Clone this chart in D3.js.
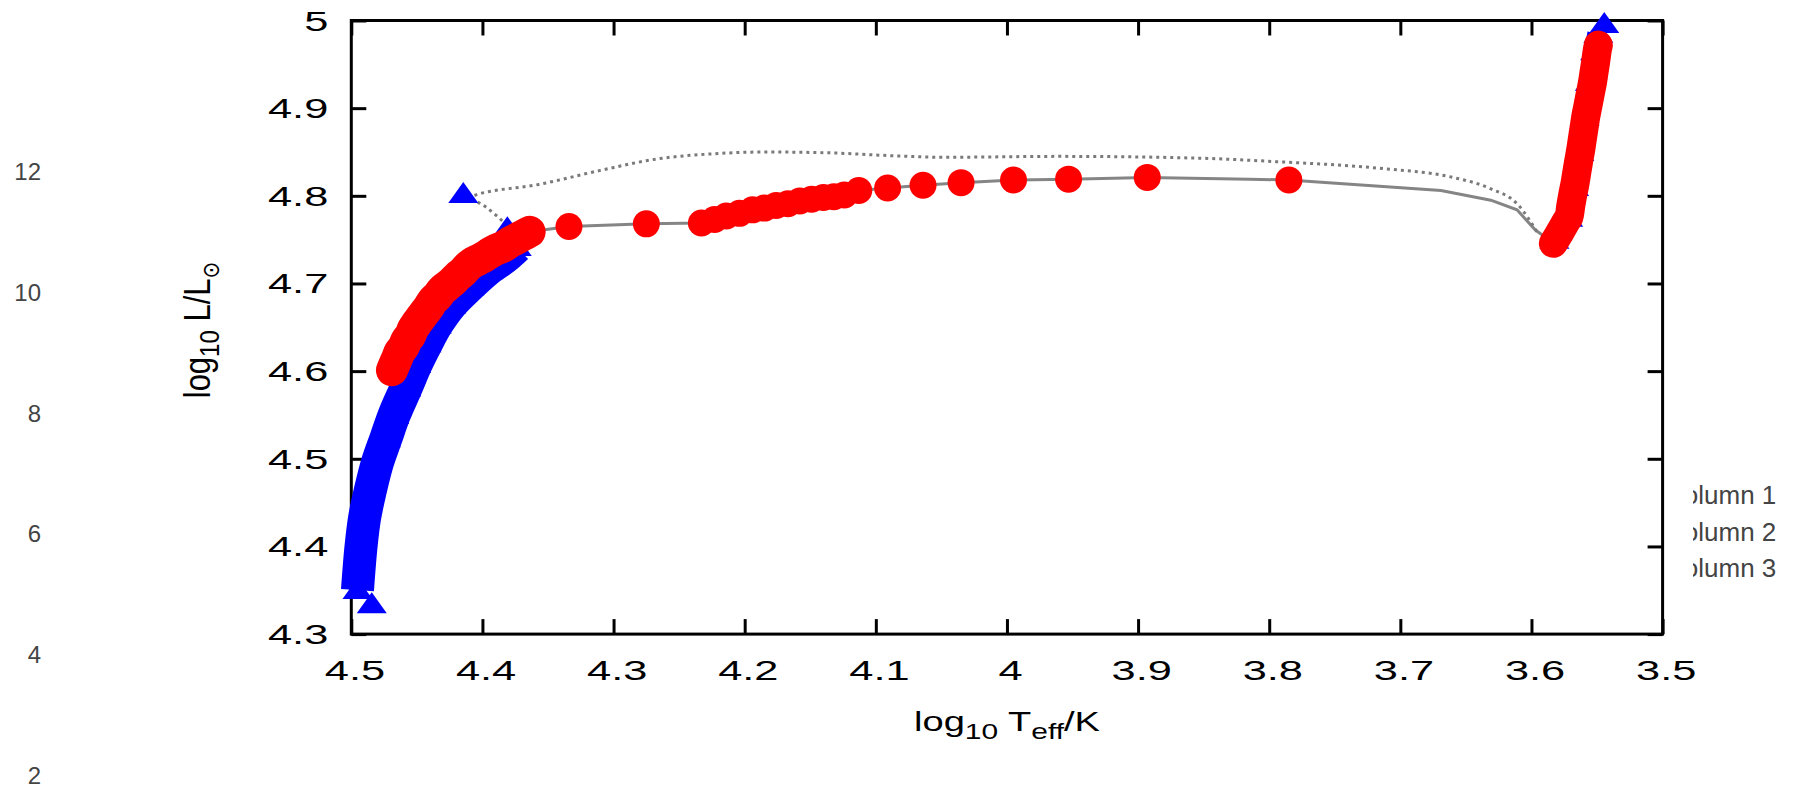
<!DOCTYPE html>
<html><head><meta charset="utf-8">
<script src="https://cdn.jsdelivr.net/npm/d3@7"></script>
<style>html,body{margin:0;padding:0;background:#fff;overflow:hidden}</style>
</head><body><svg id="c" width="1799" height="789"></svg>
<script>
// ---- tick labels ----
const xTickVals = [4.5,4.4,4.3,4.2,4.1,4.0,3.9,3.8,3.7,3.6,3.5];
const xTickLabels = ["4.5","4.4","4.3","4.2","4.1","4","3.9","3.8","3.7","3.6","3.5"];
const yTickVals = [4.3,4.4,4.5,4.6,4.7,4.8,4.9,5.0];
const yTickLabels = ["4.3","4.4","4.5","4.6","4.7","4.8","4.9","5"];
const bgAxisVals = [2,4,6,8,10,12];
const legendLabels = ["Column 1","Column 2","Column 3"];

// ---- red circles (Column 2) ----
const redLeftX = [4.469,4.467,4.465,4.463,4.460,4.458,4.455,4.453,4.450,4.447,4.444,4.441,4.438,4.434,4.431,4.427,4.423,4.419,4.415,4.412,4.408,4.403,4.398,4.394,4.389,4.384,4.379,4.374,4.369,4.364];
const redLeftY = [4.601,4.608,4.615,4.622,4.628,4.635,4.641,4.648,4.655,4.661,4.667,4.673,4.680,4.686,4.692,4.697,4.702,4.708,4.713,4.718,4.723,4.727,4.731,4.735,4.739,4.742,4.747,4.751,4.755,4.759];
const redMidX = [4.233,4.223,4.214,4.204,4.194,4.185,4.176,4.167,4.158,4.149,4.140,4.132,4.124];
const redMidY = [4.769,4.773,4.777,4.780,4.784,4.786,4.789,4.791,4.794,4.796,4.798,4.799,4.801];
const redSparseX = [4.334,4.275,4.113,4.091,4.064,4.035,3.995,3.953,3.893,3.785];
const redSparseY = [4.765,4.768,4.806,4.809,4.812,4.815,4.818,4.819,4.821,4.818];
const redRightX = [3.5833,3.5800,3.5765,3.5738,3.5714,3.5700,3.5685,3.5668,3.5654,3.5640,3.5625,3.5612,3.5599,3.5586,3.5569,3.5553,3.5536,3.5523,3.5510,3.5498,3.5490];
const redRightY = [4.7458,4.7540,4.7630,4.7700,4.7761,4.7890,4.8015,4.8142,4.8270,4.8395,4.8522,4.8650,4.8775,4.8902,4.9030,4.9155,4.9283,4.9410,4.9535,4.9663,4.9720];

// ---- blue triangles (Column 1) ----
const blueBandX = [4.4953,4.4926,4.4899,4.4855,4.4802,4.4736,4.4673,4.4581,4.4505,4.4426,4.4348,4.4238,4.4099,4.3967,4.3830,4.3738];
const blueBandY = [4.3502,4.3996,4.4323,4.4638,4.4950,4.5233,4.5499,4.5814,4.6080,4.6317,4.6531,4.6760,4.6968,4.7147,4.7294,4.7416];
const blueRightX = [3.5825,3.5720,3.5675,3.5635,3.5595,3.5555,3.5515,3.5490];
const blueRightY = [4.750,4.775,4.810,4.850,4.890,4.930,4.965,4.985];
const blueSparseX = [4.4146,4.381,4.4844,3.5445];
const blueSparseY = [4.802,4.763,4.334,4.996];

// ---- lines (Column 3) ----
const trackX = [4.469,4.447,4.431,4.408,4.384,4.364,4.334,4.275,4.233,4.194,4.158,4.124,4.113,4.091,4.064,4.035,3.995,3.953,3.893,3.815,3.785,3.716,3.669,3.631,3.611,3.597,3.583,3.5714,3.5625,3.5536,3.549];
const trackY = [4.601,4.661,4.692,4.723,4.742,4.759,4.765,4.768,4.769,4.784,4.794,4.801,4.806,4.809,4.812,4.815,4.818,4.819,4.821,4.819,4.818,4.811,4.806,4.795,4.784,4.761,4.746,4.776,4.852,4.928,4.972];
const dotX = [4.381,4.414,4.403,4.357,4.310,4.267,4.223,4.185,4.135,4.092,4.048,3.960,3.855,3.795,3.713,3.663,3.631,3.611,3.595];
const dotY = [4.766,4.797,4.802,4.813,4.829,4.842,4.848,4.850,4.849,4.846,4.844,4.845,4.843,4.839,4.831,4.822,4.808,4.791,4.757];

const FONT = "'Liberation Sans', Arial, sans-serif";
const svg = d3.select("#c");
const x = d3.scaleLinear().domain([4.5,3.5]).range([351.3,1662.6]);
const y = d3.scaleLinear().domain([4.3,5.0]).range([634.1,20.5]);
const zip = (xs,ys)=>xs.map((v,i)=>[v,ys[i]]);

// ---- background (underlying chart) axis labels ----
const gy = d3.scaleLinear().domain([2,12]).range([775,171.3]);
const bg = svg.append("g").attr("transform","translate(44,0)")
  .call(d3.axisLeft(gy).tickValues(bgAxisVals).tickSize(0).tickPadding(3));
bg.select(".domain").remove();
bg.selectAll("text").attr("font-family",FONT).attr("font-size",24).attr("fill","#444").attr("dy","0.35em");

// legend (clipped on its left side)
svg.append("clipPath").attr("id","lc").append("rect").attr("x",1693).attr("y",460).attr("width",106).attr("height",140);
const lg = svg.append("g").attr("clip-path","url(#lc)");
const legY = d3.scalePoint().domain(legendLabels).range([504,577]);
lg.selectAll("text").data(legendLabels).join("text")
  .attr("x",1665).attr("y",d=>legY(d)).attr("font-family",FONT).attr("font-size",26).attr("fill","#444").text(d=>d);

// ---- axes ----
function styleAxis(g){
  g.select(".domain").remove();
  g.selectAll(".tick line").attr("stroke","#000").attr("stroke-width",3);
}
const axB = svg.append("g").attr("transform",`translate(0,${y(4.3)})`)
  .call(d3.axisBottom(x).tickValues(xTickVals).tickFormat((d,i)=>xTickLabels[i]).tickSizeInner(-15).tickSizeOuter(0));
styleAxis(axB);
axB.selectAll("text").attr("font-family",FONT).attr("font-size",28).attr("fill","#000")
  .attr("y",26).attr("dy","0.71em").attr("x",2).attr("transform","scale(1.55,1)");
const axT = svg.append("g").attr("transform",`translate(0,${y(5.0)})`)
  .call(d3.axisTop(x).tickValues(xTickVals).tickFormat("").tickSizeInner(-15).tickSizeOuter(0));
styleAxis(axT);
const axL = svg.append("g").attr("transform",`translate(${x(4.5)},0)`)
  .call(d3.axisLeft(y).tickValues(yTickVals).tickFormat((d,i)=>yTickLabels[i]).tickSizeInner(-15).tickSizeOuter(0));
styleAxis(axL);
axL.selectAll("text").attr("font-family",FONT).attr("font-size",28).attr("fill","#000")
  .attr("x",-23/1.55).attr("dy","0.34em").attr("transform","scale(1.55,1)");
const axR = svg.append("g").attr("transform",`translate(${x(3.5)},0)`)
  .call(d3.axisRight(y).tickValues(yTickVals).tickFormat("").tickSizeInner(-15).tickSizeOuter(0));
styleAxis(axR);
svg.append("rect").attr("x",x(4.5)).attr("y",y(5.0)).attr("width",x(3.5)-x(4.5)).attr("height",y(4.3)-y(5.0))
  .attr("fill","none").attr("stroke","#000").attr("stroke-width",3);

// ---- lines ----
const line = d3.line().x(d=>x(d[0])).y(d=>y(d[1]));
svg.append("path").attr("d",line(zip(trackX,trackY))).attr("fill","none").attr("stroke","#858585").attr("stroke-width",3);
const dline = d3.line().x(d=>x(d[0])).y(d=>y(d[1])).curve(d3.curveMonotoneX);
svg.append("path").attr("d",dline(zip(dotX,dotY))).attr("fill","none")
  .attr("stroke","#7a7a7a").attr("stroke-width",3).attr("stroke-dasharray","3,4");

// ---- blue triangles ----
const tri = "M0,-12L15,9L-15,9Z";
const band = d3.line().x(d=>x(d[0])).y(d=>y(d[1])).curve(d3.curveCatmullRom);
svg.append("path").attr("d",band(zip(blueBandX,blueBandY))).attr("fill","none").attr("stroke","#0000ff")
  .attr("stroke-width",33).attr("stroke-linejoin","round");
svg.append("path").attr("d",band(zip(blueRightX,blueRightY))).attr("fill","none").attr("stroke","#0000ff")
  .attr("stroke-width",22).attr("stroke-linejoin","round");
const bluePts = zip(blueBandX,blueBandY).concat(zip(blueRightX,blueRightY),zip(blueSparseX,blueSparseY));
svg.append("g").selectAll("path").data(bluePts).join("path")
  .attr("d",tri).attr("transform",d=>`translate(${x(d[0])},${y(d[1])})`).attr("fill","#0000ff");

// ---- red circles ----
svg.append("path").attr("d",band(zip(redLeftX,redLeftY))).attr("fill","none").attr("stroke","#ff0000")
  .attr("stroke-width",32).attr("stroke-linejoin","round").attr("stroke-linecap","round");
svg.append("path").attr("d",band(zip(redRightX,redRightY))).attr("fill","none").attr("stroke","#ff0000")
  .attr("stroke-width",29).attr("stroke-linejoin","round").attr("stroke-linecap","round");
const redPts = zip(redLeftX,redLeftY).concat(zip(redMidX,redMidY),zip(redSparseX,redSparseY),zip(redRightX,redRightY));
svg.append("g").selectAll("circle").data(redPts).join("circle")
  .attr("cx",d=>x(d[0])).attr("cy",d=>y(d[1])).attr("r",13.5).attr("fill","#ff0000");

// ---- axis titles ----
const xl = svg.append("text").attr("transform","translate(1007,731) scale(1.36,1)")
  .attr("text-anchor","middle").attr("font-family",FONT).attr("font-size",28).attr("fill","#000");
xl.append("tspan").text("log");
xl.append("tspan").attr("font-size",22).attr("dy",7.5).text("10");
xl.append("tspan").attr("dy",-7.5).text(" T");
xl.append("tspan").attr("font-size",22).attr("dy",7.5).text("eff");
xl.append("tspan").attr("dy",-7.5).text("/K");

const yl = svg.append("text").attr("transform","translate(210,330) scale(1.18,1) rotate(-90)")
  .attr("text-anchor","middle").attr("font-family",FONT).attr("font-size",31).attr("fill","#000");
yl.append("tspan").text("log");
yl.append("tspan").attr("font-size",24).attr("dy",8).text("10");
yl.append("tspan").attr("dy",-8).text(" L/L");
yl.append("tspan").attr("font-family","'DejaVu Sans', sans-serif").attr("font-size",20).attr("dy",8).text("⊙");
</script></body></html>
